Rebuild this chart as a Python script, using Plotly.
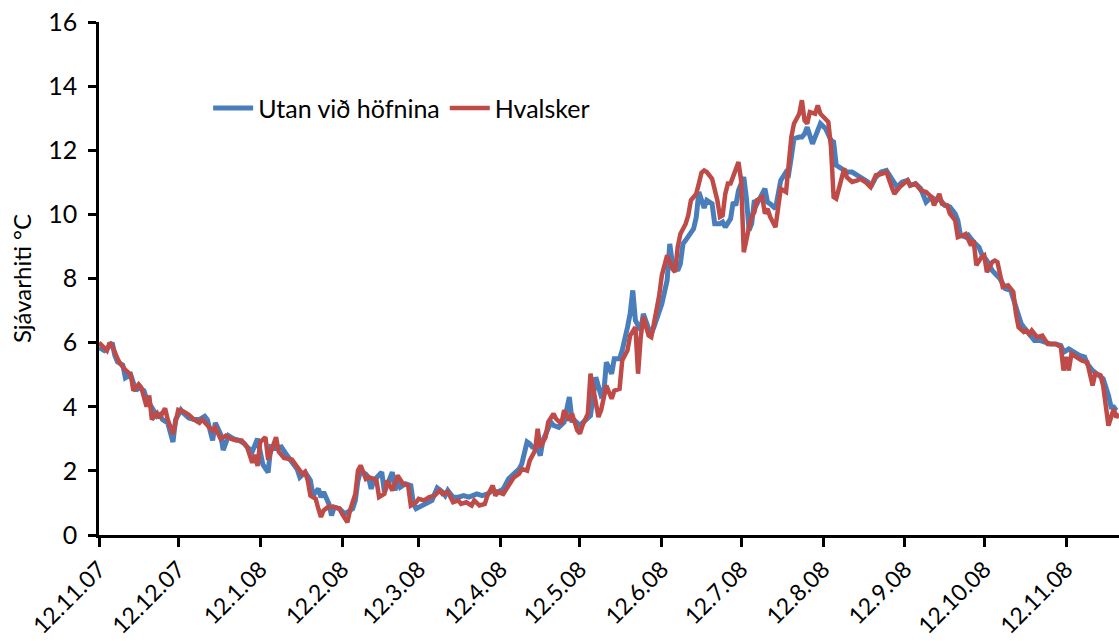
import pandas as pd
import plotly.graph_objects as go

start_date = "2007-11-12"

# Utan við höfnina (blue) - day offsets from start_date and sea temperature (°C)
days_utan = [0, 2, 3, 5, 6, 7, 9, 10, 12, 14, 15, 17, 18, 19, 21, 22, 23, 24, 26, 27, 28, 29, 31, 32, 34, 36, 38,
             40, 41, 43, 44, 46, 47, 49, 51, 53, 55, 56, 58, 60, 61, 62, 64, 65, 67, 69, 71, 73, 75, 76, 77,
             78, 80, 81, 83, 84, 85, 87, 88, 89, 91, 93, 94, 96, 97, 98, 99, 101, 102, 103, 104, 106, 107, 108,
             110, 111, 112, 113, 114, 116, 118, 119, 120, 122, 124, 126, 127, 128, 130, 131, 132, 134, 136, 138,
             140, 142, 143, 145, 147, 149, 151, 153,
             155, 157, 159, 160, 162, 163, 164, 166, 167, 168, 170, 171, 172, 174, 176, 178, 179, 180, 182, 184,
             186, 188, 190, 191, 192, 194, 195, 197, 198, 200, 201, 202, 203, 205, 206, 208, 209, 210, 212, 213,
             215, 216, 217, 219, 220, 221, 222, 224, 225, 226, 227, 229,
             230, 232, 233, 235, 236, 237, 239, 240, 241, 242, 244, 245, 246, 247, 248, 249, 251, 252, 253, 254,
             256, 257, 258, 260, 261, 262, 263, 265, 266, 267, 268, 270, 271, 272, 273, 275, 277, 278, 279, 280,
             282, 283, 285, 287, 289, 291, 292, 294, 296, 298, 300, 302, 304,
             306, 307, 309, 311, 313, 315, 317, 318, 320, 322, 324, 325, 326, 328, 329, 331, 333, 334, 336, 338,
             340, 341, 343, 345, 347, 349, 350, 352, 354, 356, 358, 360, 362, 364, 365, 367, 369, 371, 373, 374,
             376, 378, 380, 382, 383, 384, 385]
temp_utan = [5.85, 5.75, 5.8, 6.0, 5.6, 5.4, 5.3, 4.9, 5.0, 4.5, 4.6, 4.5, 4.25, 4.1, 3.85, 3.7, 3.75, 3.6, 3.5, 3.2,
             2.9, 3.6, 3.9, 3.8, 3.65, 3.6, 3.6, 3.7, 3.6, 2.95, 3.5, 3.15, 2.65, 3.1, 3.0, 2.95, 2.85, 2.75, 2.6,
             3.0, 2.5, 2.2, 1.95, 2.75, 2.7, 2.75, 2.5, 2.3, 2.05, 1.8, 1.9,
             1.96, 1.7, 1.23, 1.44, 1.18, 1.34, 0.97, 0.61, 0.87, 0.82, 0.66, 0.71, 0.82, 1.08, 1.7, 2.0, 1.9, 1.8,
             1.44, 1.7, 1.9, 1.96, 1.34, 1.7, 1.96, 1.39, 1.7, 1.49, 1.6, 1.54, 0.97, 0.82, 0.92, 1.02, 1.08, 1.28,
             1.47, 1.34, 1.23, 1.39, 1.18, 1.18, 1.23, 1.18, 1.23, 1.28, 1.23, 1.28, 1.39, 1.34, 1.44,
             1.75, 1.91, 2.06, 2.22, 2.9, 2.84, 2.74, 2.69, 2.48, 2.95, 3.36, 3.52, 3.42, 3.36, 3.52, 4.3, 3.57,
             3.57, 3.42, 3.57, 3.73, 4.92, 4.35, 4.41, 5.39, 5.03, 5.5, 5.5, 5.76, 6.48, 6.9, 7.63, 6.69, 6.38, 6.9,
             6.43, 6.28, 6.48, 7.06, 7.21, 7.94, 9.08, 8.46, 8.25, 8.46, 9.08, 9.19, 9.39, 9.55, 9.9, 10.7, 10.2,
             10.44, 10.33, 9.71, 9.71, 9.76, 9.6, 9.86, 10.38, 10.28, 10.75, 11.16, 10.5, 9.5, 9.71, 10.44, 10.33,
             10.64, 10.8, 10.38, 10.33, 10.18, 10.64, 11.06, 11.32, 11.26, 11.79, 12.36, 12.41, 12.41, 12.51, 12.72,
             12.2, 12.41, 12.72, 12.83, 12.67, 12.31, 12.26, 11.53, 11.48, 11.37, 11.32, 11.32, 11.22, 11.11, 11.01,
             10.85, 11.16, 11.32, 11.37, 11.11, 10.85, 11.01,
             11.06, 10.9, 10.96, 10.8, 10.38, 10.54, 10.44, 10.49, 10.28, 10.23, 10.02, 9.81, 9.35, 9.29, 9.35, 9.14,
             8.98, 8.77, 8.56, 8.25, 8.1, 7.99, 7.68, 7.63, 7.11, 6.59, 6.48, 6.27, 6.07, 6.07, 6.02, 5.96, 5.96,
             5.91, 5.7, 5.8, 5.7, 5.6, 5.55, 5.34, 5.13, 4.98, 4.87, 4.35, 3.99, 3.99, 3.88]

# Hvalsker (red)
days_hval = [0, 1, 3, 4, 5, 7, 8, 10, 11, 12, 13, 15, 16, 18, 19, 20, 22, 23, 25, 26, 28, 30, 32, 34, 36, 38, 39,
             41, 43, 44, 46, 48, 50, 52, 54, 56, 58, 59, 60, 61, 63, 64, 67, 68, 70, 73, 75, 77,
             78, 79, 80, 82, 83, 84, 85, 87, 89, 91, 92, 94, 95, 97, 98, 99, 101, 102, 104, 105, 106, 108, 109,
             111, 112, 113, 115, 117, 118, 120, 121, 123, 125, 127, 129, 130, 132, 134, 136, 137, 139, 141, 142,
             144, 146, 147, 149, 150, 151, 153,
             157, 159, 160, 162, 163, 165, 166, 167, 169, 170, 172, 173, 175, 176, 178, 179, 181, 182, 183, 185,
             186, 188, 189, 190, 192, 194, 195, 197, 198, 200, 201, 203, 204, 205, 206, 208, 209, 210, 212, 213,
             214, 215, 217, 218, 219, 220, 222, 223, 224, 226, 227, 228,
             229, 230, 232, 234, 235, 236, 237, 238, 239, 241, 242, 243, 244, 246, 247, 248, 249, 251, 252, 253,
             254, 256, 257, 258, 260, 261, 262, 263, 265, 266, 267, 268, 269, 271, 272, 273, 275, 276, 277, 278,
             279, 281, 282, 283, 285, 287, 288, 289, 290, 292, 294, 296, 298, 300, 301, 303, 305,
             306, 307, 309, 311, 313, 315, 316, 318, 319, 321, 322, 324, 325, 327, 328, 330, 331, 332, 334, 335,
             336, 338, 339, 340, 342, 344, 346, 347, 348, 350, 351, 352, 353, 355, 357, 359, 360, 362, 364, 365,
             366, 367, 368, 370, 372, 374, 376, 377, 379, 380, 381, 382, 384, 385, 386]
temp_hval = [6.0, 5.9, 5.75, 6.0, 5.9, 5.5, 5.35, 5.15, 5.05, 5.0, 4.5, 4.7, 4.6, 4.0, 4.35, 3.6, 3.8, 3.65, 3.95,
             3.6, 3.15, 3.9, 3.85, 3.75, 3.6, 3.5, 3.6, 3.4, 3.25, 3.35, 3.0, 3.1, 3.0, 2.95, 2.95, 2.75, 2.25, 2.5,
             2.15, 2.9, 3.05, 2.35, 3.05, 2.6, 2.4, 2.35, 2.15, 1.9,
             1.96, 1.7, 1.23, 1.13, 0.82, 0.56, 0.77, 0.89, 0.87, 0.82, 0.66, 0.40, 0.77, 1.28, 2.01, 2.17, 1.75,
             1.8, 1.75, 1.7, 1.18, 1.28, 1.7, 1.39, 1.6, 1.86, 1.6, 1.54, 0.92, 1.02, 1.13, 1.08, 1.18, 1.23, 1.39,
             1.28, 1.34, 1.02, 1.08, 0.97, 1.02, 0.92, 1.08, 0.92, 0.97, 1.23, 1.54, 1.23, 1.34, 1.28,
             1.8, 1.91, 2.06, 2.01, 2.32, 2.63, 3.31, 2.74, 3.05, 3.52, 3.78, 3.62, 3.47, 3.89, 3.57, 3.78, 3.26,
             3.16, 3.42, 3.78, 5.03, 3.99, 3.68, 3.89, 4.66, 4.25, 4.5, 4.56, 5.44, 5.76, 6.22, 6.48, 5.03, 6.17,
             6.8, 6.22, 6.17, 6.59, 7.47, 8.1, 8.36, 8.72, 8.3, 8.2, 8.98, 9.39, 9.7, 9.97, 10.44, 10.64, 10.96, 11.3,
             11.37, 11.32, 11.11, 10.44, 9.92, 9.97, 10.64, 10.96, 10.96, 11.37, 11.63, 11.06, 8.82, 9.6, 9.92,
             10.07, 10.44, 10.54, 10.02, 10.18, 9.92, 9.6, 10.23, 10.8, 10.7, 11.68, 12.41, 12.83, 13.14, 13.56,
             12.93, 12.83, 13.19, 13.14, 13.4, 13.14, 12.93, 12.88, 12.1, 10.54, 10.49, 11.22, 11.43, 11.16, 11.01,
             11.06, 11.11, 11.06, 11.01, 10.85, 11.22, 11.26, 11.32, 10.85, 10.64, 10.85, 11.01,
             11.06, 10.9, 10.96, 10.75, 10.7, 10.54, 10.28, 10.64, 10.33, 10.28, 10.02, 9.81, 9.29, 9.35, 9.39,
             9.03, 9.19, 8.41, 8.67, 8.72, 8.2, 8.51, 8.56, 8.51, 7.74, 7.79, 7.58, 6.9, 6.48, 6.33, 6.38, 6.27,
             6.38, 6.17, 6.22, 5.96, 5.96, 5.96, 5.86, 5.13, 5.55, 5.13, 5.65, 5.55, 5.44, 5.39, 4.66, 5.03, 4.98,
             4.66, 4.14, 3.41, 3.93, 3.67, 3.78]

tick_labels = ["12.11.07", "12.12.07", "12.1.08", "12.2.08", "12.3.08", "12.4.08", "12.5.08",
               "12.6.08", "12.7.08", "12.8.08", "12.9.08", "12.10.08", "12.11.08"]
axis_end = "2008-12-02"

series_names = ["Utan við höfnina", "Hvalsker"]
series_colors = ["#4A7EBB", "#BE4B48"]

start = pd.Timestamp(start_date)
x_utan = start + pd.to_timedelta(days_utan, unit="D")
x_hval = start + pd.to_timedelta(days_hval, unit="D")
tick_vals = pd.to_datetime(tick_labels, format="%d.%m.%y")

FONT = "Lato, 'Noto Sans', sans-serif"

fig = go.Figure()
fig.add_trace(go.Scatter(x=x_utan, y=temp_utan, mode="lines", name=series_names[0],
                         line=dict(color=series_colors[0], width=5)))
fig.add_trace(go.Scatter(x=x_hval, y=temp_hval, mode="lines", name=series_names[1],
                         line=dict(color=series_colors[1], width=4.5)))

fig.update_layout(
    width=1119, height=641,
    margin=dict(l=99, r=0, t=22, b=106, autoexpand=False),
    paper_bgcolor="white", plot_bgcolor="white",
    font=dict(family=FONT, size=25, color="black"),
    showlegend=True,
    legend=dict(orientation="h", x=0.107, y=0.832, xanchor="left", yanchor="middle",
                bgcolor="rgba(0,0,0,0)", font=dict(size=25), itemwidth=40),
)
fig.update_xaxes(
    range=[start, pd.Timestamp(axis_end)], automargin=False,
    tickmode="array", tickvals=tick_vals, ticktext=tick_labels, tickangle=-45,
    showgrid=False, zeroline=False,
    showline=True, linecolor="black", linewidth=2.5,
    ticks="outside", ticklen=9, tickwidth=2.5, tickcolor="black",
    tickfont=dict(size=23),
)
fig.update_yaxes(
    range=[0, 16], dtick=2, tick0=0, automargin=False,
    showgrid=False, zeroline=False,
    showline=True, linecolor="black", linewidth=2.5,
    ticks="outside", ticklen=8, tickwidth=2.5, tickcolor="black",
    tickfont=dict(size=25), ticklabelstandoff=6,
    title=dict(text="Sjávarhiti °C", font=dict(size=24), standoff=10),
)

fig.write_html("out.html", config={"displayModeBar": False},
               post_script="document.body.style.margin='0';document.body.style.overflow='hidden';")
